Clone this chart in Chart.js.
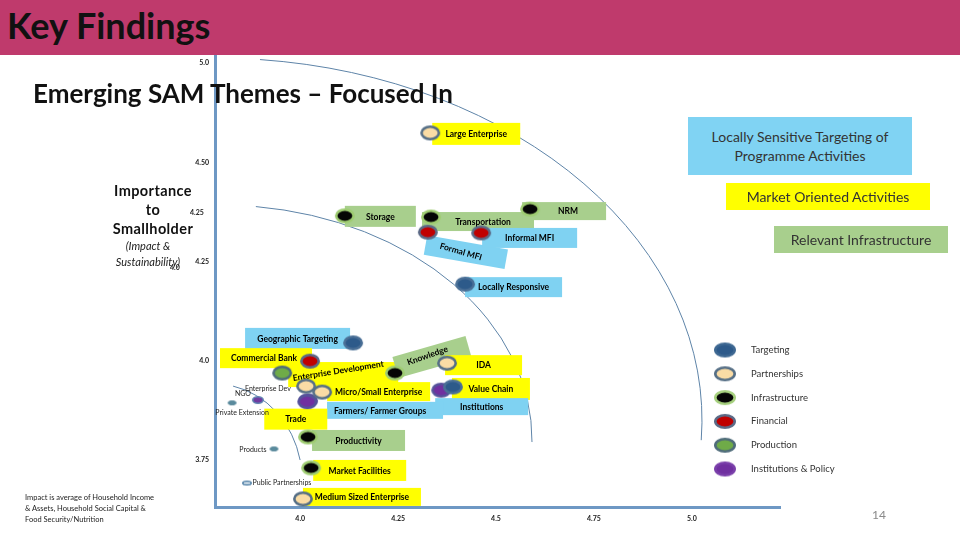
<!DOCTYPE html>
<html><head><meta charset="utf-8">
<script src="https://cdn.jsdelivr.net/npm/chart.js@4.4.1/dist/chart.umd.min.js"></script>
<style>
body{margin:0;width:960px;height:540px;overflow:hidden;background:#fff;font-family:Lato,'Open Sans',sans-serif}
#stage{position:relative;width:960px;height:540px}
canvas{position:absolute;left:0;top:0}
.t{position:absolute;white-space:nowrap;z-index:2}
#hdr{position:absolute;left:0;top:0;width:960px;height:55px;background:#BF3A6C;z-index:2}
#hdr span{position:absolute;left:7px;top:3px;font-weight:bold;font-size:36px;color:#111}
.box{position:absolute;z-index:2;text-align:center;font-size:14px;color:#333;line-height:19px}
</style></head>
<body><div id="stage">
<canvas id="c" width="960" height="540"></canvas>
<div id="hdr"><span>Key Findings</span></div>
<div class="t" style="left:33px;top:77px;font-size:26px;font-weight:bold;color:#111">Emerging SAM Themes – Focused In</div>
<div class="t" style="left:93px;top:181px;width:120px;text-align:center;font-size:14.5px;font-weight:bold;line-height:19px;letter-spacing:0.4px;color:#111">Importance<br>to<br>Smallholder</div>
<div class="t" style="left:88px;top:238px;width:120px;text-align:center;font-size:11px;font-style:italic;line-height:16px;color:#222">(Impact &amp;<br>Sustainability)</div>
<div class="t" style="left:190px;top:208px;font-size:7px;font-weight:bold;color:#222">4.25</div>
<div class="t" style="left:170px;top:263px;font-size:7px;font-weight:bold;color:#222">4.0</div>
<div class="t" style="left:25px;top:492px;font-size:7.5px;line-height:11px;color:#222">Impact is average of Household Income<br>&amp; Assets, Household Social Capital &amp;<br>Food Security/Nutrition</div>
<div class="box" style="left:688px;top:117px;width:224px;height:58px;background:#80D3F3;padding-top:10px;box-sizing:border-box">Locally Sensitive Targeting of<br>Programme Activities</div>
<div class="box" style="left:726px;top:183px;width:204px;height:27px;background:#FFFF00;padding-top:4px;box-sizing:border-box">Market Oriented Activities</div>
<div class="box" style="left:774px;top:226px;width:174px;height:27px;background:#A8CF8D;padding-top:4px;box-sizing:border-box">Relevant Infrastructure</div>
<div class="t" style="left:872px;top:507px;font-size:12px;color:#8a8a8a">14</div>
</div>
<script>
// ---- data ----
const categories = ['Targeting','Partnerships','Infrastructure','Financial','Production','Institutions & Policy'];
const themeNames = ['Large Enterprise','Storage','Transportation','NRM','Formal MFI','Informal MFI','Locally Responsive','Geographic Targeting','Commercial Bank','Enterprise Development','Knowledge','IDA','Value Chain','Institutions','Micro/Small Enterprise','Small Enterprise','Farmers/ Farmer Groups','Trade','Productivity','Market Facilities','Medium Sized Enterprise','NGO','Private Extension','Products','Public Partnerships'];
const themeX = [4.332,4.114,4.334,4.587,4.326,4.462,4.421,4.135,4.025,3.954,4.242,4.375,4.390,4.360,4.056,4.015,4.020,4.018,4.020,4.028,4.007,3.892,3.826,3.933,3.864];
const themeY = [4.574,4.365,4.362,4.382,4.324,4.322,4.193,4.045,3.999,3.969,3.969,3.994,3.934,3.926,3.921,3.936,3.899,3.897,3.808,3.730,3.652,3.901,3.894,3.778,3.692];
const themeCategory = ['Partnerships','Infrastructure','Infrastructure','Infrastructure','Financial','Financial','Targeting','Targeting','Financial','Production','Infrastructure','Partnerships','Targeting','Institutions & Policy','Partnerships','Partnerships','Institutions & Policy','Institutions & Policy','Infrastructure','Infrastructure','Partnerships','Institutions & Policy','Targeting','Targeting','Partnerships'];
const themeMinor = [0,0,0,0,0,0,0,0,0,0,0,0,0,0,0,0,0,0,0,0,0,1,1,1,1];
const xTickValues = [4.0,4.25,4.5,4.75,5.0];
const xTickLabels = ['4.0','4.25','4.5','4.75','5.0'];
const yTickValues = [3.75,4.0,4.25,4.5,4.75];
const yTickLabels = ['3.75','4.0','4.25','4.50','5.0'];
// guide arcs (data units): centre, radii, start/end angle in degrees
const arcCx = [3.7824,3.7952,3.7824];
const arcCy = [3.6996,3.8004,3.8508];
const arcRx = [0.2222,0.7967,1.2436];
const arcRy = [0.2418,0.5919,0.9118];
const arcA0 = [-78,-83.4,-84.7];
const arcA1 = [-12,0.5,3.2];

// ---- styles ----
const catStyle = {
  'Targeting':{fill:'#2D5A8A',border:'#4A6F96'},
  'Partnerships':{fill:'#FADCA5',border:'#566F86'},
  'Infrastructure':{fill:'#050505',border:'#9FCC72'},
  'Financial':{fill:'#C00000',border:'#5B6A86'},
  'Production':{fill:'#6FAB48',border:'#4F6C7A'},
  'Institutions & Policy':{fill:'#7030A0',border:'#55529A'}
};
const legendStyle = {
  'Targeting':{fill:'#2D5A8A',border:'#3E6892'},
  'Partnerships':{fill:'#FADCA5',border:'#566F86'},
  'Infrastructure':{fill:'#050505',border:'#A6D07E'},
  'Financial':{fill:'#C00000',border:'#5B6A86'},
  'Production':{fill:'#6FAB48',border:'#4F6C7A'},
  'Institutions & Policy':{fill:'#7030A0',border:'#7A3FAA'}
};
const minorStyle = {
  'Targeting':{fill:'#5B8C9E',border:'#4F8195',w:9,h:5,lw:1},
  'Partnerships':{fill:'#E8F0F4',border:'#4F7FA6',w:10,h:5,lw:1.6},
  'Institutions & Policy':{fill:'#6F3AA0',border:'#5E82B0',w:12,h:8,lw:1.6}
};
function ellipseImg(w,h,fill,border,lw){
  const c=document.createElement('canvas');c.width=w+2;c.height=h+2;
  const g=c.getContext('2d');g.beginPath();g.ellipse((w+2)/2,(h+2)/2,w/2-lw/2,h/2-lw/2,0,0,Math.PI*2);
  g.fillStyle=fill;g.fill();g.lineWidth=lw;g.strokeStyle=border;g.stroke();return c;
}
const imgs={};
categories.forEach(c=>{const s=catStyle[c];imgs[c]=ellipseImg(20,15,s.fill,s.border,2.6);
  const l=legendStyle[c];imgs['L'+c]=ellipseImg(22,15,l.fill,l.border,2.6);
  if(minorStyle[c]){const m=minorStyle[c];imgs['m'+c]=ellipseImg(m.w,m.h,m.fill,m.border,m.lw);}});

// label boxes layout (pixel offsets relative to each bubble)
const Y='#FFFF00',B='#7FD2F2',G='#A8CF8D';
const labelLayout = {
  'Large Enterprise':{dx:2,dy:-10,w:88,h:22,fill:Y},
  'Storage':{dx:0,dy:-10,w:71,h:21,fill:G},
  'Transportation':{dx:-9,dy:-5,w:112,h:19,fill:G,tx:5},
  'NRM':{dx:-8,dy:-7,w:84,h:18,fill:G,tx:4},
  'Formal MFI':{dx:-3,dy:10,w:82,h:20,fill:B,rot:10,trot:6,tx:-5},
  'Informal MFI':{dx:1,dy:-5,w:95,h:20,fill:B},
  'Locally Responsive':{dx:0,dy:-7,w:97,h:20,fill:B},
  'Geographic Targeting':{dx:-108,dy:-15,w:105,h:21,fill:B},
  'Commercial Bank':{dx:-90,dy:-13,w:92,h:20,fill:Y,tx:-2},
  'Enterprise Development':{dx:6,dy:-11,w:110,h:25,fill:Y,tx:-5,ty:-4,trot:-9},
  'Knowledge':{dx:-1,dy:-27,w:76,h:22,fill:G,rot:-16,tx:-4,ty:-3,trot:-3},
  'IDA':{dx:-2,dy:-8,w:77,h:20,fill:Y},
  'Value Chain':{dx:-1,dy:-9,w:78,h:22,fill:Y},
  'Institutions':{dx:-6,dy:8,w:93,h:17,fill:B},
  'Micro/Small Enterprise':{dx:5,dy:-10,w:103,h:19,fill:Y},
  'Farmers/ Farmer Groups':{dx:19,dy:1,w:116,h:17,fill:B,tx:-5},
  'Trade':{dx:-43,dy:7,w:63,h:21,fill:Y},
  'Productivity':{dx:4,dy:-7,w:93,h:21,fill:G},
  'Market Facilities':{dx:2,dy:-8,w:93,h:21,fill:Y},
  'Medium Sized Enterprise':{dx:0,dy:-11,w:118,h:18,fill:Y}
};
const smallLabels = {
  'NGO':[{t:'Enterprise Dev',x:10,y:-11},{t:'NGO',x:-15,y:-6}],
  'Private Extension':[{t:'Private Extension',x:10,y:10}],
  'Products':[{t:'Products',x:-21,y:1}],
  'Public Partnerships':[{t:'Public Partnerships',x:35,y:0}]
};

const datasets = categories.map(c=>({
  label:c,
  data: themeNames.map((n,i)=>({x:themeX[i],y:themeY[i],name:n,minor:themeMinor[i],cat:themeCategory[i]})).filter(p=>p.cat===c),
  pointStyle: ctx=> (ctx.raw && ctx.raw.minor) ? imgs['m'+c] : imgs[c],
  pointRadius:6
}));

const decor = {
  id:'decor',
  beforeDatasetsDraw(chart){
    const ctx=chart.ctx, xs=chart.scales.x, ys=chart.scales.y;
    ctx.save();ctx.strokeStyle='#5E84A8';ctx.lineWidth=1;
    arcCx.forEach((cx,i)=>{
      const px=xs.getPixelForValue(cx), py=ys.getPixelForValue(arcCy[i]);
      const rx=xs.getPixelForValue(cx+arcRx[i])-px, ry=py-ys.getPixelForValue(arcCy[i]+arcRy[i]);
      ctx.beginPath();ctx.ellipse(px,py,rx,ry,0,arcA0[i]*Math.PI/180,arcA1[i]*Math.PI/180);ctx.stroke();
    });
    ctx.restore();
    themeNames.forEach((n,i)=>{
      const px=xs.getPixelForValue(themeX[i]), py=ys.getPixelForValue(themeY[i]);
      const L=labelLayout[n];
      if(L){
        ctx.save();
        ctx.translate(px+L.dx+L.w/2, py+L.dy+L.h/2);
        ctx.rotate((L.rot||0)*Math.PI/180);
        ctx.fillStyle=L.fill;ctx.fillRect(-L.w/2,-L.h/2,L.w,L.h);
        ctx.translate(L.tx||0,L.ty||0);ctx.rotate((L.trot||0)*Math.PI/180);
        ctx.fillStyle='#000';ctx.font='bold 8.5px Lato';ctx.textAlign='center';ctx.textBaseline='middle';
        ctx.fillText(n,0,0.5);
        ctx.restore();
      }
      const S=smallLabels[n];
      if(S){
        ctx.save();ctx.fillStyle='#222';ctx.font='7px Lato';ctx.textAlign='center';ctx.textBaseline='middle';
        S.forEach(s=>ctx.fillText(s.t,px+s.x,py+s.y));ctx.restore();
      }
    });
  },
  afterDraw(chart){
    const ctx=chart.ctx;
    ctx.save();ctx.font='9.5px Lato';ctx.fillStyle='#333';ctx.textBaseline='middle';
    categories.forEach((c,i)=>{
      const y=350+i*23.8;
      const im=imgs['L'+c];ctx.drawImage(im,725-im.width/2,y-im.height/2);
      ctx.fillText(c,751,y);
    });
    ctx.restore();
  }
};

new Chart(document.getElementById('c'),{
  type:'scatter',
  data:{datasets},
  options:{
    responsive:false,animation:false,
    layout:{padding:{left:0,right:180,top:55,bottom:0}},
    plugins:{legend:{display:false},tooltip:{enabled:false}},
    scales:{
      x:{type:'linear',min:3.7824,max:5.2252,
        grid:{display:false,drawTicks:false},
        border:{display:true,color:'#6E98C4',width:3},
        afterBuildTicks:s=>{s.ticks=xTickValues.map(v=>({value:v}));},
        afterFit:s=>{s.height=33;},
        ticks:{padding:8,color:'#222',font:{family:'Lato',size:7,weight:'bold'},callback:(v,i)=>xTickLabels[i],maxRotation:0}},
      y:{type:'linear',min:3.6316,max:4.7702,
        grid:{display:false,drawTicks:false},
        border:{display:true,color:'#6E98C4',width:3},
        afterBuildTicks:s=>{s.ticks=yTickValues.map(v=>({value:v}));},
        afterFit:s=>{s.width=215;},
        ticks:{padding:6,color:'#222',font:{family:'Lato',size:7,weight:'bold'},callback:(v,i)=>yTickLabels[i]}}
    }
  },
  plugins:[decor]
});
</script>
</body></html>
